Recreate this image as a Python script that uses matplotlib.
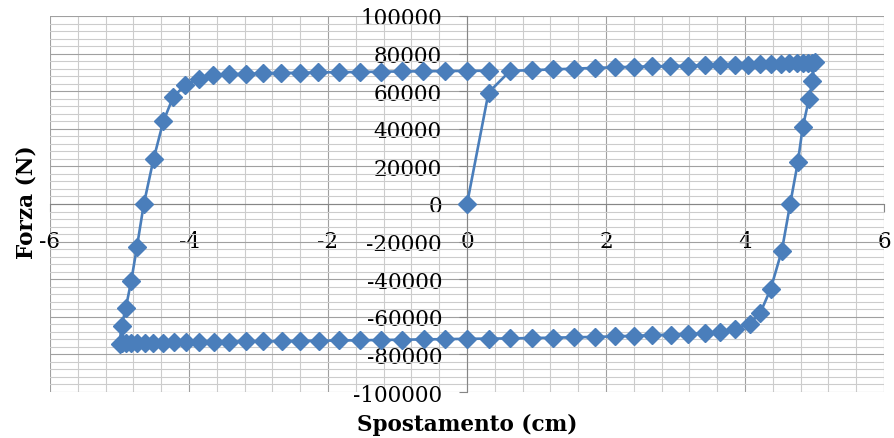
import matplotlib
matplotlib.use("Agg")
import matplotlib.pyplot as plt
from matplotlib.ticker import MultipleLocator

plt.rcParams["axes.unicode_minus"] = False

# hysteresis loop: displacement (cm) and force (N)
# initial loading branch
x_load = [0.0, 0.31]
y_load = [0, 59300]

# upper branch, moving right
x_top_r = [0.62, 0.93, 1.24, 1.54, 1.84, 2.13, 2.40, 2.66, 2.92, 3.18, 3.42,
           3.64, 3.86, 4.05, 4.22, 4.38, 4.52, 4.64, 4.75, 4.84, 4.91, 4.96, 5.0]
y_top_r = [70800, 71200, 71600, 72000, 72400, 72700, 73000, 73200, 73400, 73600, 73800,
           73900, 74000, 74200, 74300, 74500, 74600, 74800, 74900, 75000, 75100, 75200, 75300]

# right side, unloading
x_right = [4.97, 4.92, 4.83, 4.76, 4.65, 4.53, 4.37, 4.22, 4.07]
y_right = [65500, 55800, 40700, 22100, 0, -24800, -45100, -57900, -63700]

# lower branch, moving left
x_bot = [3.86, 3.64, 3.42, 3.18, 2.93, 2.66, 2.40, 2.13, 1.84, 1.54, 1.24, 0.93, 0.62,
         0.31, 0.0, -0.31, -0.62, -0.93, -1.24, -1.54, -1.84, -2.13, -2.40, -2.66,
         -2.93, -3.18, -3.42, -3.64, -3.86, -4.05, -4.22, -4.38, -4.52, -4.64, -4.75,
         -4.84, -4.91, -4.96, -5.0]
y_bot = [-66400, -68000, -68800, -69200, -69500, -69800, -70100, -70400, -70700, -70900,
         -71100, -71300, -71500, -71600, -71700, -71900, -72000, -72200, -72300, -72500,
         -72600, -72700, -72800, -72900, -73000, -73100, -73200, -73300, -73400, -73500,
         -73600, -73700, -73800, -73900, -74000, -74100, -74100, -74200, -74300]

# left side, reloading and upper branch back towards zero
x_left = [-4.97, -4.91, -4.83, -4.75, -4.65, -4.51, -4.37, -4.23, -4.06, -3.86, -3.65,
          -3.42, -3.18, -2.93, -2.67, -2.40, -2.14, -1.84, -1.54, -1.24, -0.94, -0.63,
          -0.32, 0.0, 0.31]
y_left = [-65000, -55400, -40700, -23000, 0, 23900, 43900, 56700, 63200, 66400, 68500,
          69000, 69300, 69500, 69700, 69800, 70000, 70100, 70200, 70400, 70500, 70600,
          70700, 70800, 70900]

x = x_load + x_top_r + x_right + x_bot + x_left
y = y_load + y_top_r + y_right + y_bot + y_left

fig = plt.figure(figsize=(8.94, 4.39), dpi=100)
ax = fig.add_axes([50 / 894, 1 - 393 / 439, 834 / 894, 376 / 439])

ax.plot(x, y, color="#4A7EBB", lw=1.9, marker="D", ms=9, mec="#4A7EBB",
        mfc="#4A7EBB", zorder=3, clip_on=False)

ax.set_xlim(-6, 6)
ax.set_ylim(-100000, 100000)
ax.xaxis.set_major_locator(MultipleLocator(2))
ax.xaxis.set_minor_locator(MultipleLocator(0.4))
ax.yaxis.set_major_locator(MultipleLocator(20000))
ax.yaxis.set_minor_locator(MultipleLocator(4000))

ax.grid(which="major", color="#a0a0a0", lw=0.8)
ax.grid(which="minor", color="#cccccc", lw=0.8)
ax.set_axisbelow(True)

for side in ["top", "right"]:
    ax.spines[side].set_visible(False)
ax.spines["left"].set_position(("data", 0))
ax.spines["bottom"].set_position(("data", 0))
for side in ["left", "bottom"]:
    ax.spines[side].set_color("#868686")
    ax.spines[side].set_linewidth(0.8)
    ax.spines[side].set_zorder(2)

ax.tick_params(which="major", length=6, color="#868686", width=0.8)
ax.tick_params(which="minor", length=0)
ax.tick_params(axis="y", pad=12)
ax.tick_params(axis="x", pad=13)
for lab in ax.get_xticklabels() + ax.get_yticklabels():
    lab.set_fontfamily("DejaVu Serif")
    lab.set_fontsize(15.5)

fig.text(467 / 894, 1 - 425 / 439, "Spostamento (cm)", ha="center", va="center",
         fontfamily="DejaVu Serif", fontweight="bold", fontsize=15.5)
fig.text(26 / 894, 1 - 202 / 439, "Forza (N)", ha="center", va="center", rotation=90,
         fontfamily="DejaVu Serif", fontweight="bold", fontsize=15.5)

fig.savefig("out.png", dpi=100)
